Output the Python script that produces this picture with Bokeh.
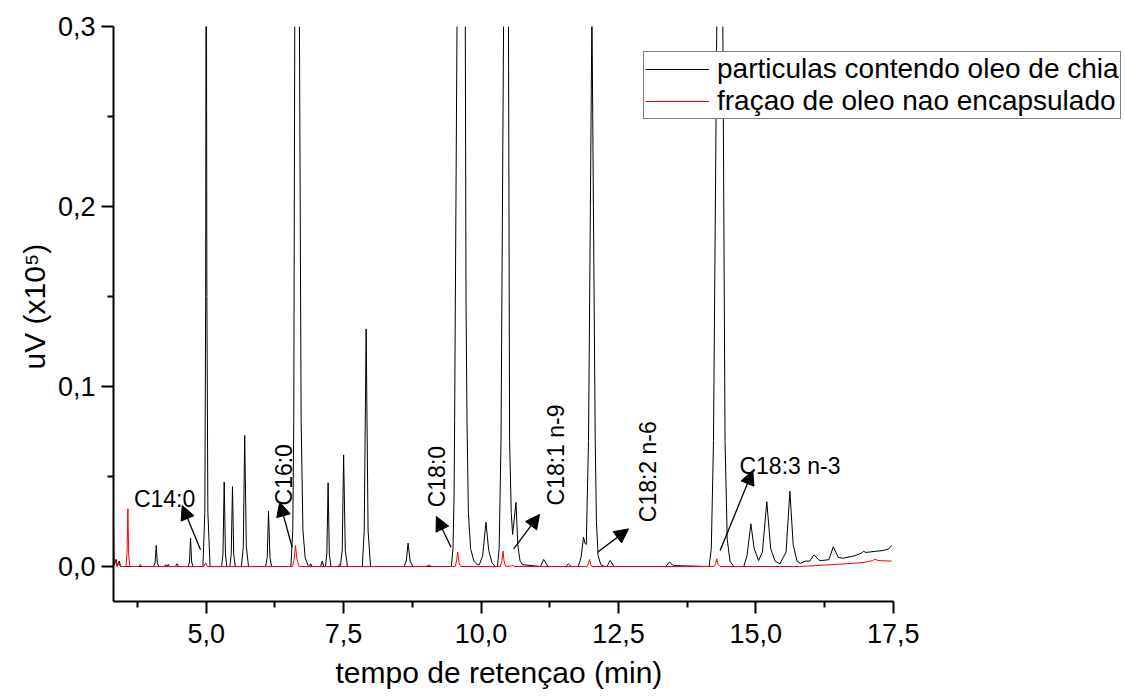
import math
from bokeh.plotting import figure
from bokeh.models import (Range1d, FixedTicker, CustomJSTickFormatter, Label, Title,
                          Arrow, NormalHead, Legend, LegendItem)
from bokeh.embed import file_html
from bokeh.resources import INLINE

# ---- black trace: particulas contendo oleo de chia ----
rt_chia = [3.31, 3.33, 3.36, 3.38, 3.42, 3.44, 3.52,
           4.04, 4.07, 4.09, 4.11, 4.14,
           4.24, 4.26, 4.285, 4.31, 4.335, 4.44, 4.47, 4.50,
           4.67, 4.695, 4.715, 4.735, 4.76,
           4.94, 4.975, 4.99, 4.997, 5.0, 5.003, 5.012, 5.03, 5.07,
           5.28, 5.305, 5.327, 5.35, 5.375,
           5.43, 5.455, 5.478, 5.50, 5.53,
           5.64, 5.675, 5.70, 5.73, 5.77,
           6.08, 6.11, 6.133, 6.16, 6.19,
           6.54, 6.575, 6.593, 6.611, 6.654, 6.696, 6.727, 6.76, 6.80, 6.86,
           6.88, 6.90, 6.93, 7.08, 7.11, 7.14,
           7.17, 7.195, 7.218, 7.24, 7.27,
           7.44, 7.475, 7.50, 7.53, 7.57,
           7.84, 7.875, 7.91, 7.945, 7.99,
           8.60, 8.64, 8.673, 8.71, 8.76,
           9.46, 9.49, 9.51, 9.52, 9.533, 9.563, 9.64, 9.714, 9.727, 9.745, 9.77, 9.81, 9.87, 9.93,
           9.97, 10.03, 10.09, 10.14, 10.20, 10.26,
           10.30, 10.33, 10.364, 10.41, 10.455, 10.50, 10.52, 10.55, 10.575, 10.636, 10.67, 10.71, 10.76,
           11.08, 11.14, 11.22,
           11.54, 11.59, 11.64,
           11.77, 11.82, 11.865, 11.89, 11.915, 11.956, 11.99, 12.018, 12.045, 12.078, 12.10, 12.13, 12.18, 12.25,
           12.29, 12.35, 12.42,
           13.36, 13.43, 13.50,
           14.15, 14.19, 14.23, 14.29, 14.345, 14.40, 14.44, 14.48, 14.53, 14.60,
           14.78, 14.84, 14.91, 14.97, 15.05,
           15.12, 15.20, 15.27, 15.35, 15.44,
           15.55, 15.62, 15.68, 15.75, 15.81, 15.90,
           15.98, 16.06, 16.15, 16.20,
           16.33, 16.41, 16.50, 16.59,
           16.80, 16.93, 16.96, 17.00, 17.20, 17.32, 17.42, 17.47]
uv_chia = [0.003, 0.001, 0.004, 0.0005, 0.003, 0.0, 0.0,
           0.0, 0.002, 0.0117, 0.002, 0.0,
           0.0, 0.001, 0.0, 0.0012, 0.0, 0.0, 0.0015, 0.0,
           0.0, 0.0025, 0.0157, 0.0025, 0.0,
           0.0, 0.03, 0.15, 0.35, 0.6, 0.35, 0.15, 0.03, 0.0,
           0.0, 0.007, 0.0469, 0.007, 0.0,
           0.0, 0.0067, 0.0444, 0.0067, 0.0,
           0.0, 0.011, 0.0728, 0.011, 0.0,
           0.0, 0.005, 0.0307, 0.005, 0.0,
           0.0, 0.02, 0.081, 0.3, 0.7, 0.3, 0.081, 0.02, 0.005, 0.0,
           0.0, 0.0015, 0.0, 0.0, 0.003, 0.0,
           0.0, 0.007, 0.0465, 0.007, 0.0,
           0.0, 0.009, 0.062, 0.009, 0.0,
           0.0, 0.02, 0.132, 0.02, 0.0,
           0.0, 0.003, 0.013, 0.003, 0.0,
           0.0, 0.01, 0.04, 0.081, 0.148, 0.3, 0.8, 0.3, 0.148, 0.081, 0.03, 0.01, 0.003, 0.001,
           0.001, 0.006, 0.0246, 0.009, 0.002, 0.0,
           0.0, 0.01, 0.07, 0.3, 0.8, 0.3, 0.07, 0.03, 0.0178, 0.0356, 0.012, 0.003, 0.001,
           0.0, 0.0039, 0.0,
           0.0, 0.0015, 0.0,
           0.0, 0.005, 0.0163, 0.013, 0.0122, 0.07, 0.2, 0.31, 0.2, 0.07, 0.025, 0.006, 0.001, 0.0,
           0.0, 0.0033, 0.0,
           0.0, 0.0025, 0.0005,
           0.0, 0.01, 0.07, 0.3, 0.8, 0.3, 0.07, 0.015, 0.003, 0.0,
           0.0, 0.006, 0.0237, 0.01, 0.0033,
           0.008, 0.036, 0.01, 0.003, 0.0015,
           0.008, 0.0418, 0.012, 0.003, 0.0017, 0.003,
           0.003, 0.0065, 0.0035, 0.0033,
           0.0038, 0.011, 0.005, 0.0046,
           0.006, 0.0075, 0.0085, 0.0078, 0.0085, 0.0089, 0.0098, 0.0117]

# ---- red trace: fracao de oleo nao encapsulado ----
rt_free = [3.31, 3.325, 3.34, 3.36, 3.38, 3.42, 3.44, 3.54, 3.56, 3.575, 3.59, 3.61,
           3.77, 3.80, 3.83, 4.96, 4.99, 5.02,
           6.57, 6.60, 6.624, 6.65, 6.69, 7.40, 7.43, 7.46,
           9.00, 9.05, 9.10, 9.53, 9.555, 9.575, 9.60, 9.63,
           10.35, 10.38, 10.40, 10.42, 10.45, 10.55, 10.58, 10.60,
           11.93, 11.955, 11.975, 11.995, 12.02,
           14.24, 14.27, 14.29, 14.315, 14.35,
           15.80, 16.50, 16.95, 17.12, 17.17, 17.22, 17.47]
uv_free = [0.028, 0.004, 0.002, 0.003, 0.0, 0.002, 0.0, 0.0, 0.008, 0.032, 0.006, 0.0,
           0.0, 0.0012, 0.0, 0.0, 0.002, 0.0,
           0.0, 0.004, 0.0117, 0.004, 0.0, 0.0, 0.0015, 0.0,
           0.0, 0.0008, 0.0, 0.0, 0.003, 0.008, 0.002, 0.0,
           0.0, 0.003, 0.0085, 0.003, 0.0, 0.0003, 0.0008, 0.0,
           0.0, 0.0015, 0.0039, 0.0012, 0.0,
           0.0, 0.0015, 0.0043, 0.0012, 0.0,
           0.0, 0.0012, 0.0022, 0.0032, 0.004, 0.0033, 0.003]

series_names = ["particulas contendo oleo de chia", "fraçao de oleo nao encapsulado"]
x_title = "tempo de retençao (min)"
y_title = "uV (x10\u2075)"

x_ticks = [5.0, 7.5, 10.0, 12.5, 15.0, 17.5]
x_minor = [3.75, 6.25, 8.75, 11.25, 13.75, 16.25]
y_ticks = [0.0, 0.1, 0.2, 0.3]
y_minor = [0.05, 0.15, 0.25]

ann_text = ["C14:0", "C16:0", "C18:0", "C18:1 n-9", "C18:2 n-6", "C18:3 n-3"]
ann_x = [3.684, 6.411, 9.200, 11.369, 13.047, 14.702]
ann_y = [0.0376, 0.0339, 0.0329, 0.0339, 0.0246, 0.0561]
ann_vertical = [False, True, True, True, True, False]
arrow_x0 = [4.896, 6.564, 9.455, 10.593, 12.120, 14.351]
arrow_y0 = [0.0093, 0.0107, 0.0107, 0.0098, 0.0079, 0.0089]
arrow_x1 = [4.564, 6.338, 9.187, 11.065, 12.684, 14.945]
arrow_y1 = [0.0339, 0.0357, 0.0278, 0.0289, 0.0209, 0.0533]

FONT = "Liberation Sans"

W, H = 1125, 698
ML, MT, MB = 113, 26, 97
frame_w = W - ML
frame_h = H - MT - MB
px_per_x = 54.96
px_per_y = 1800.0
x0 = 3.313
y1 = 0.3

p = figure(width=W, height=H, output_backend="svg", toolbar_location=None,
           x_range=Range1d(x0, x0 + frame_w / px_per_x),
           y_range=Range1d(y1 - frame_h / px_per_y, y1),
           min_border_left=ML, min_border_right=0, min_border_top=MT,
           min_border_bottom=MB)
p.outline_line_color = None
p.xgrid.visible = False
p.ygrid.visible = False
p.background_fill_color = "white"
p.border_fill_color = "white"

r_black = p.line(rt_chia, uv_chia, line_color="black", line_width=1)
r_red = p.line(rt_free, uv_free, line_color="#ff0000", line_width=1)

fmt = CustomJSTickFormatter(code="return tick.toFixed(1).replace('.', ',');")

for ax, ticks, minor in ((p.xaxis[0], x_ticks, x_minor), (p.yaxis[0], y_ticks, y_minor)):
    ax.ticker = FixedTicker(ticks=ticks, minor_ticks=minor)
    ax.formatter = fmt
    ax.axis_line_width = 2
    ax.major_tick_line_width = 2
    ax.minor_tick_line_width = 2
    ax.major_tick_out = 12
    ax.major_tick_in = 0
    ax.minor_tick_out = 6
    ax.minor_tick_in = 0
    ax.major_label_text_font = FONT
    ax.major_label_text_font_size = "27px"
    ax.major_label_text_color = "black"

p.xaxis.bounds = (x0, 17.5)
p.xaxis.major_label_standoff = 10
p.yaxis.major_label_standoff = 6

# axis titles: centred on the drawn axis (as in the reference), not on the frame
p.add_layout(Title(text=x_title, align="left", offset=222, standoff=17,
                   text_font=FONT, text_font_size="30px", text_font_style="normal",
                   text_color="black"), "below")
p.add_layout(Title(text=y_title, align="left", offset=232, standoff=8,
                   text_font=FONT, text_font_size="30px", text_font_style="normal",
                   text_color="black"), "left")

for t, x, y, vert in zip(ann_text, ann_x, ann_y, ann_vertical):
    p.add_layout(Label(x=x, y=y, text=t, angle=(math.pi / 2 if vert else 0),
                       text_align="left", text_baseline="alphabetic",
                       text_font=FONT, text_font_size="23px", text_color="black"))

for xa, ya, xb, yb in zip(arrow_x0, arrow_y0, arrow_x1, arrow_y1):
    p.add_layout(Arrow(end=NormalHead(size=14, fill_color="black", line_color="black",
                                      line_width=1),
                       x_start=xa, y_start=ya, x_end=xb, y_end=yb,
                       line_color="black", line_width=1.3))

legend = Legend(items=[LegendItem(label=series_names[0], renderers=[r_black]),
                       LegendItem(label=series_names[1], renderers=[r_red])],
                location=(643 - ML, frame_h - (119 - MT)))
legend.border_line_color = "black"
legend.border_line_width = 1
legend.background_fill_color = "white"
legend.background_fill_alpha = 1.0
legend.padding = 1
legend.spacing = 0
legend.margin = 0
legend.glyph_width = 64
legend.glyph_height = 30
legend.label_height = 30
legend.label_standoff = 8
legend.label_text_font = FONT
legend.label_text_font_size = "28px"
legend.label_text_color = "black"
p.add_layout(legend)

open("out.html", "w").write(file_html(p, INLINE))
